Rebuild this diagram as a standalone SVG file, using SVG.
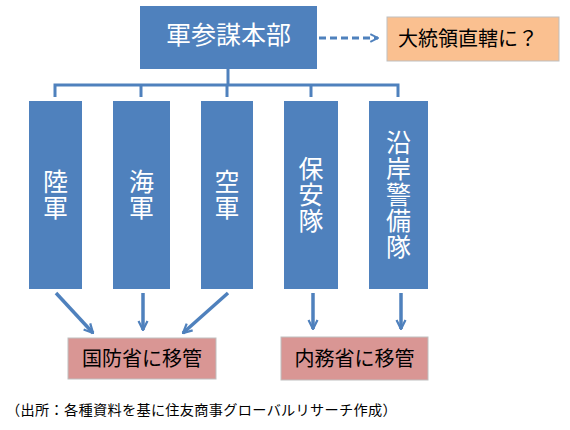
<svg xmlns="http://www.w3.org/2000/svg" width="570" height="430" viewBox="0 0 570 430">
<style>
.blue{fill:#4F81BD;}
.wt{fill:#FFFFFF;font-family:"Noto Sans CJK JP","Noto Sans CJK SC",sans-serif;font-size:25px;text-anchor:middle;}
.bt{fill:#000000;font-family:"Noto Sans CJK JP","Noto Sans CJK SC",sans-serif;font-size:20px;text-anchor:middle;}
.ln{stroke:#4F81BD;stroke-width:3;fill:none;}
.ar{stroke:#4F81BD;stroke-width:3.5;fill:none;}
.pink{fill:#D99694;stroke:#BFBFBF;stroke-width:1;}
</style>
<defs>
<marker id="ah" viewBox="0 0 10 10" refX="9" refY="5" markerWidth="3.2" markerHeight="3.2" orient="auto" markerUnits="strokeWidth">
<path d="M1,1 L9,5 L1,9" fill="none" stroke="#4F81BD" stroke-width="2"/>
</marker>
</defs>
<rect width="570" height="430" fill="#FFFFFF"/>
<g id="connectors">
<line class="ln" x1="228" y1="69" x2="228" y2="85"/>
<polyline class="ln" points="55,97 55,85 398,85 398,97"/>
<line class="ln" x1="141" y1="85" x2="141" y2="97"/>
<line class="ln" x1="227" y1="85" x2="227" y2="97"/>
<line class="ln" x1="311" y1="85" x2="311" y2="97"/>
<line x1="319" y1="38" x2="378" y2="38" stroke="#4F81BD" stroke-width="3" stroke-dasharray="7,4" marker-end="url(#ah)"/>
<line class="ar" x1="56" y1="293" x2="93" y2="333" marker-end="url(#ah)"/>
<line class="ar" x1="143" y1="293" x2="143" y2="330" marker-end="url(#ah)"/>
<line class="ar" x1="228" y1="293" x2="183" y2="333" marker-end="url(#ah)"/>
<line class="ar" x1="313" y1="293" x2="313" y2="329" marker-end="url(#ah)"/>
<line class="ar" x1="401" y1="293" x2="401" y2="329" marker-end="url(#ah)"/>
</g>
<g id="hq">
<rect class="blue" x="140" y="6" width="177" height="63"/>
<text class="wt" x="228.5" y="44" font-size="26">軍参謀本部</text>
</g>
<g id="president">
<rect x="387" y="17" width="172" height="44" fill="#FAC090" stroke="#BFBFBF" stroke-width="1"/>
<text class="bt" x="468" y="46">大統領直轄に？</text>
</g>
<g id="army">
<rect class="blue" x="29" y="101" width="53" height="188"/>
<text class="wt"><tspan x="55.5" y="191">陸</tspan><tspan x="55.5" y="217">軍</tspan></text>
</g>
<g id="navy">
<rect class="blue" x="113" y="101" width="57" height="188"/>
<text class="wt"><tspan x="141.5" y="191">海</tspan><tspan x="141.5" y="217">軍</tspan></text>
</g>
<g id="airforce">
<rect class="blue" x="201" y="101" width="52" height="188"/>
<text class="wt"><tspan x="227" y="191">空</tspan><tspan x="227" y="217">軍</tspan></text>
</g>
<g id="security">
<rect class="blue" x="284" y="101" width="54" height="188"/>
<text class="wt"><tspan x="311" y="178">保</tspan><tspan x="311" y="204">安</tspan><tspan x="311" y="230">隊</tspan></text>
</g>
<g id="coastguard">
<rect class="blue" x="369" y="101" width="59" height="188"/>
<text class="wt"><tspan x="398.5" y="152">沿</tspan><tspan x="398.5" y="178">岸</tspan><tspan x="398.5" y="204">警</tspan><tspan x="398.5" y="230">備</tspan><tspan x="398.5" y="256">隊</tspan></text>
</g>
<g id="defense">
<rect class="pink" x="68" y="338" width="148" height="41"/>
<text class="bt" x="142" y="366">国防省に移管</text>
</g>
<g id="interior">
<rect class="pink" x="281" y="337" width="147" height="43"/>
<text class="bt" x="354.5" y="366">内務省に移管</text>
</g>
<text x="6" y="415" font-family="'Noto Sans CJK JP','Noto Sans CJK SC',sans-serif" font-size="14.2" letter-spacing="0.3" fill="#000000">（出所：各種資料を基に住友商事グローバルリサーチ作成）</text>
</svg>
